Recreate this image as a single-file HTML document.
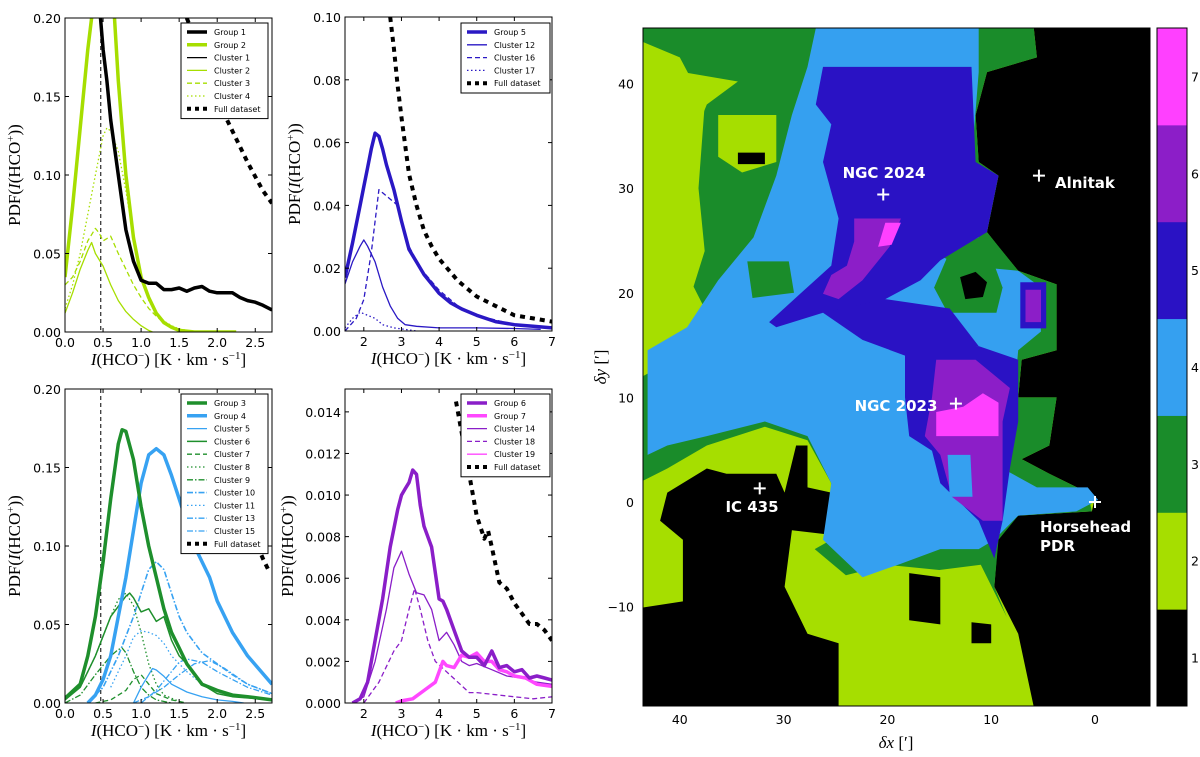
<!DOCTYPE html>
<html><head><meta charset="utf-8"><style>
html,body{margin:0;padding:0;background:#fff;}
svg{display:block;}
.tk{font-family:"DejaVu Sans","Liberation Sans",sans-serif;font-size:12.5px;fill:#000;}
.ax{font-family:"Liberation Serif",serif;font-size:17px;fill:#000;}
.lg{font-family:"DejaVu Sans","Liberation Sans",sans-serif;font-size:8px;fill:#000;}
.ml{font-family:"DejaVu Sans","Liberation Sans",sans-serif;font-size:15px;font-weight:bold;fill:#fff;}
</style></head><body>
<svg id="root" width="1200" height="757" viewBox="0 0 1200 757" xmlns="http://www.w3.org/2000/svg">
<defs>
<clipPath id="cA"><rect x="65" y="18" width="207" height="314"/></clipPath>
<clipPath id="cB"><rect x="345" y="17" width="207" height="314"/></clipPath>
<clipPath id="cC"><rect x="65" y="389" width="207" height="314"/></clipPath>
<clipPath id="cD"><rect x="345" y="389" width="207" height="314"/></clipPath>
<clipPath id="cM"><rect x="643" y="28" width="507" height="678"/></clipPath>
</defs>
<g id="panels"></g>
<g id="map"></g>
</svg>
<script>
// ---------- Panel A data ----------
const aG1x=[0.45,0.5,0.55,0.6,0.7,0.8,0.9,1.0,1.1,1.2,1.3,1.4,1.5,1.6,1.7,1.8,1.9,2.0,2.1,2.2,2.3,2.4,2.5,2.6,2.72];
const aG1y=[0.21,0.18,0.16,0.135,0.1,0.065,0.045,0.033,0.031,0.031,0.027,0.027,0.028,0.026,0.028,0.029,0.026,0.025,0.025,0.025,0.022,0.02,0.019,0.017,0.014];
const aG2x=[0,0.1,0.2,0.3,0.35,0.4,0.5,0.6,0.65,0.7,0.8,0.9,1.0,1.1,1.2,1.3,1.4,1.5,1.7,2.0,2.25];
const aG2y=[0.035,0.08,0.13,0.18,0.2,0.22,0.24,0.22,0.2,0.16,0.1,0.06,0.035,0.022,0.012,0.006,0.003,0.001,0.0,0.0,0.0];
const aC2x=[0,0.1,0.2,0.3,0.35,0.4,0.5,0.6,0.7,0.8,0.9,1.0,1.1,1.15];
const aC2y=[0.012,0.025,0.04,0.052,0.057,0.05,0.042,0.03,0.02,0.013,0.008,0.004,0.001,0.0];
const aC3x=[0,0.1,0.2,0.3,0.4,0.45,0.5,0.6,0.7,0.8,0.9,1.0,1.1,1.2,1.3,1.4,1.6];
const aC3y=[0.03,0.035,0.045,0.058,0.066,0.063,0.058,0.061,0.05,0.04,0.03,0.022,0.015,0.01,0.006,0.003,0.0];
const aC4x=[0,0.1,0.2,0.3,0.4,0.5,0.55,0.6,0.7,0.8,0.9,1.0,1.1,1.2,1.3,1.4,1.5,1.6];
const aC4y=[0.015,0.03,0.05,0.075,0.1,0.125,0.13,0.128,0.115,0.09,0.06,0.035,0.02,0.012,0.007,0.004,0.002,0.001];
const aFx=[1.6,1.8,2.0,2.1,2.2,2.4,2.6,2.72];
const aFy=[0.2,0.175,0.15,0.138,0.128,0.108,0.09,0.082];
// ---------- Panel B data ----------
const bG5x=[1.5,1.7,1.9,2.0,2.1,2.2,2.3,2.4,2.5,2.6,2.8,3.0,3.2,3.4,3.6,3.8,4.0,4.3,4.6,5.0,5.5,6.0,6.5,7.0];
const bG5y=[0.017,0.028,0.04,0.046,0.052,0.058,0.063,0.062,0.058,0.053,0.045,0.035,0.026,0.022,0.018,0.015,0.012,0.009,0.007,0.005,0.003,0.002,0.0015,0.001];
const bC12x=[1.5,1.7,1.9,2.0,2.1,2.3,2.5,2.7,2.9,3.1,3.4,4,5,6,6.7];
const bC12y=[0.015,0.022,0.027,0.029,0.027,0.022,0.014,0.008,0.004,0.002,0.0015,0.001,0.001,0.0008,0.0005];
const bC16x=[1.5,1.8,2.0,2.2,2.3,2.4,2.5,2.7,2.9,3.0,3.2,3.5,4,4.5,5,6,7];
const bC16y=[0.0,0.004,0.01,0.025,0.035,0.045,0.044,0.042,0.04,0.035,0.027,0.02,0.013,0.008,0.005,0.002,0.001];
const bC17x=[1.5,1.7,1.9,2.1,2.3,2.5,2.8,3.1,3.4];
const bC17y=[0.001,0.004,0.006,0.005,0.004,0.002,0.001,0.0005,0.0];
const bFx=[2.7,2.8,2.9,3.0,3.2,3.4,3.6,3.8,4.0,4.5,5.0,5.5,6.0,6.5,7.0];
const bFy=[0.1,0.09,0.078,0.068,0.05,0.04,0.032,0.027,0.023,0.016,0.011,0.008,0.005,0.004,0.003];
// ---------- Panel C data ----------
const cG3x=[0,0.2,0.3,0.4,0.5,0.6,0.7,0.75,0.8,0.9,1.0,1.1,1.2,1.3,1.4,1.5,1.6,1.8,2.0,2.2,2.4,2.72];
const cG3y=[0.003,0.012,0.03,0.055,0.09,0.13,0.165,0.174,0.173,0.155,0.125,0.1,0.08,0.06,0.045,0.035,0.025,0.012,0.008,0.005,0.004,0.002];
const cG4x=[0.3,0.4,0.5,0.6,0.7,0.8,0.9,1.0,1.1,1.2,1.3,1.4,1.5,1.6,1.7,1.8,1.9,2.0,2.2,2.4,2.72];
const cG4y=[0.0,0.005,0.015,0.03,0.055,0.08,0.11,0.14,0.158,0.162,0.158,0.145,0.13,0.115,0.1,0.09,0.08,0.065,0.045,0.03,0.012];
const cC5x=[0.9,1.0,1.1,1.15,1.2,1.3,1.4,1.6,1.8,2.0,2.2,2.35];
const cC5y=[0,0.01,0.018,0.022,0.021,0.017,0.012,0.007,0.004,0.002,0.001,0.0];
const cC6x=[0,0.2,0.4,0.6,0.8,0.85,0.9,1.0,1.1,1.2,1.3,1.4,1.5,1.6,1.8,2.0,2.2,2.72];
const cC6y=[0.002,0.01,0.03,0.055,0.068,0.07,0.067,0.058,0.06,0.052,0.055,0.04,0.03,0.025,0.012,0.006,0.004,0.002];
const cC7x=[0.4,0.6,0.8,0.9,1.0,1.1,1.2,1.4,1.6];
const cC7y=[0,0.002,0.008,0.015,0.018,0.012,0.006,0.002,0.0];
const cC8x=[0.2,0.4,0.6,0.7,0.8,0.9,1.0,1.1,1.2,1.3,1.5];
const cC8y=[0.01,0.03,0.055,0.066,0.07,0.062,0.045,0.025,0.012,0.005,0.001];
const cC9x=[0,0.2,0.4,0.6,0.7,0.75,0.8,0.9,1.0,1.1,1.2,1.4];
const cC9y=[0,0.005,0.018,0.03,0.034,0.035,0.032,0.02,0.01,0.005,0.002,0.0];
const cC10x=[0.3,0.5,0.7,0.9,1.0,1.1,1.2,1.3,1.4,1.5,1.6,1.8,2.0,2.2,2.4,2.72];
const cC10y=[0,0.01,0.03,0.055,0.07,0.085,0.09,0.085,0.07,0.055,0.045,0.032,0.025,0.018,0.012,0.006];
const cC11x=[0.6,0.8,0.9,1.0,1.1,1.2,1.3,1.4,1.6,1.8,2.0,2.3,2.72];
const cC11y=[0.01,0.03,0.042,0.046,0.045,0.043,0.038,0.03,0.02,0.012,0.008,0.004,0.002];
const cC13x=[1.0,1.2,1.4,1.5,1.6,1.8,2.0,2.2,2.4,2.72];
const cC13y=[0,0.008,0.02,0.026,0.028,0.026,0.02,0.015,0.01,0.005];
const cC15x=[0.9,1.1,1.3,1.5,1.7,1.9,2.1,2.4,2.72];
const cC15y=[0,0.004,0.01,0.018,0.025,0.027,0.022,0.012,0.006];
const cFx=[2.53,2.6,2.67];
const cFy=[0.1,0.092,0.085];
// ---------- Panel D data ----------
const dG6x=[1.7,1.9,2.1,2.3,2.5,2.7,2.9,3.0,3.1,3.2,3.3,3.4,3.5,3.6,3.8,4.0,4.1,4.2,4.4,4.6,4.8,5.0,5.2,5.4,5.6,5.8,6.0,6.2,6.4,6.6,6.8,7.0];
const dG6y=[0,0.0002,0.001,0.003,0.005,0.0075,0.0093,0.01,0.0103,0.0106,0.0112,0.011,0.0095,0.0085,0.0075,0.005,0.0049,0.0045,0.0035,0.0025,0.0022,0.0022,0.0018,0.0025,0.0017,0.0018,0.0015,0.0016,0.0012,0.0013,0.0012,0.0011];
const dG7x=[2.85,3.0,3.3,3.6,3.9,4.0,4.1,4.2,4.4,4.6,4.8,5.0,5.2,5.4,5.6,5.8,6.0,6.3,6.6,7.0];
const dG7y=[0,0.0001,0.0002,0.0006,0.001,0.0015,0.002,0.0018,0.0017,0.0023,0.0022,0.0024,0.002,0.002,0.0016,0.0015,0.0013,0.0012,0.0009,0.0008];
const dC14x=[1.7,2.0,2.3,2.6,2.8,3.0,3.2,3.4,3.6,3.8,4.0,4.2,4.4,4.6,4.8,5.0,5.4,5.8,6.2,6.6,7.0];
const dC14y=[0,0.0003,0.002,0.0045,0.0065,0.0073,0.0062,0.0053,0.0052,0.0045,0.003,0.0034,0.0028,0.002,0.0018,0.0019,0.0016,0.0013,0.0012,0.001,0.0009];
const dC18x=[2.0,2.4,2.8,3.0,3.2,3.35,3.5,3.7,3.9,4.2,4.5,4.8,5.0,5.5,6.0,6.5,7.0];
const dC18y=[0,0.001,0.0025,0.003,0.0045,0.0055,0.0045,0.003,0.002,0.0015,0.001,0.0005,0.0005,0.0004,0.0003,0.0002,0.0003];
const dFx=[4.45,4.6,4.8,5.0,5.2,5.3,5.4,5.6,5.8,6.0,6.2,6.4,6.6,6.8,7.0];
const dFy=[0.0145,0.013,0.011,0.009,0.0079,0.0083,0.0075,0.0058,0.0055,0.0048,0.0043,0.0038,0.0038,0.0035,0.003];
// ---------- Ticks ----------
const xTicksLow=[0,0.5,1.0,1.5,2.0,2.5];
const xTickLowLabels=["0.0","0.5","1.0","1.5","2.0","2.5"];
const xTicksHigh=[2,3,4,5,6,7];
const yTicksA=[0,0.05,0.10,0.15,0.20];
const yTickLabelsA=["0.00","0.05","0.10","0.15","0.20"];
const yTicksB=[0,0.02,0.04,0.06,0.08,0.10];
const yTickLabelsB=["0.00","0.02","0.04","0.06","0.08","0.10"];
const yTicksD=[0,0.002,0.004,0.006,0.008,0.010,0.012,0.014];
const yTickLabelsD=["0.000","0.002","0.004","0.006","0.008","0.010","0.012","0.014"];

const NS="http://www.w3.org/2000/svg";
function mk(tag,attrs,parent){const e=document.createElementNS(NS,tag);for(const k in attrs)e.setAttribute(k,attrs[k]);if(parent)parent.appendChild(e);return e;}
const root=document.getElementById('panels');

const YEL="#a6de00",BLK="#000",BLU5="#2a18c4",GRN="#1e8f2c",LBL="#37a2f2",PUR="#8a1ec8",MAG="#ff48ff";
const DASH="5,3",DOT="1.5,2.5",DDOT="6,2,1.5,2",FULL="5,5";

function panel(id,box,xr,yr,xt,xtl,yt,ytl,clip,vline,ylab){
  const g=mk('g',{},root);
  
  
  const sx=v=>box.x+(v-xr[0])/(xr[1]-xr[0])*box.w;
  const sy=v=>box.y+box.h-(v-yr[0])/(yr[1]-yr[0])*box.h;
  const pg=mk('g',{'clip-path':'url(#'+clip+')'},g);
  if(vline!==null){const l=mk('line',{x1:sx(vline),x2:sx(vline),y1:box.y,y2:box.y+box.h,stroke:'#000','stroke-width':1,'stroke-dasharray':'4,3'},pg);
    
    }
  xt.forEach((v,i)=>{const x=sx(v);
    mk('line',{x1:x,x2:x,y1:box.y+box.h,y2:box.y+box.h-4,stroke:'#000'},g);
    mk('line',{x1:x,x2:x,y1:box.y,y2:box.y+4,stroke:'#000'},g);
    const t=mk('text',{x:x,y:box.y+box.h+15,'text-anchor':'middle',class:'tk'},g);t.textContent=xtl[i];
    
    });
  yt.forEach((v,i)=>{const y=sy(v);
    mk('line',{x1:box.x,x2:box.x+4,y1:y,y2:y,stroke:'#000'},g);
    mk('line',{x1:box.x+box.w,x2:box.x+box.w-4,y1:y,y2:y,stroke:'#000'},g);
    const t=mk('text',{x:box.x-4,y:y+5,'text-anchor':'end',class:'tk'},g);t.textContent=ytl[i];
    
    });
  const xl=mk('text',{x:box.x+box.w/2,y:box.y+box.h+33,'text-anchor':'middle',class:'ax'},g);
  xl.innerHTML='<tspan font-style="italic">I</tspan>(HCO<tspan dy="-6" font-size="11">−</tspan><tspan dy="6">) [K · km · s</tspan><tspan dy="-6" font-size="11">−1</tspan><tspan dy="6">]</tspan>';
  
  
  const yl=mk('text',{x:0,y:0,'text-anchor':'middle',class:'ax',transform:'translate('+(box.x-ylab)+','+(box.y+box.h/2)+') rotate(-90)'},g);
  yl.innerHTML='PDF(<tspan font-style="italic">I</tspan>(HCO<tspan dy="-6" font-size="11">+</tspan><tspan dy="6">))</tspan>';
  
  
  return {g,pg,sx,sy,box};
}
function series(P,name,xs,ys,color,w,dash){
  const d=xs.map((x,i)=>(i?'L':'M')+P.sx(x).toFixed(1)+','+P.sy(ys[i]).toFixed(1)).join('');
  const p=mk('path',{d:d,fill:'none',stroke:color,'stroke-width':w,'stroke-linejoin':'round'},P.pg);
  if(dash)p.setAttribute('stroke-dasharray',dash);
  
  
}
function frame(P){mk('rect',{x:P.box.x,y:P.box.y,width:P.box.w,height:P.box.h,fill:'none',stroke:'#000','stroke-width':1},P.g);}
function legend(P,x,y,w,items){
  const lg=mk('g',{},P.g);
  
  
  mk('rect',{x:x,y:y,width:w,height:items.length*12.8+6,fill:'#fff',stroke:'#000','stroke-width':1},lg);
  items.forEach((it,i)=>{const yy=y+9+i*12.8;
    const l=mk('line',{x1:x+6,x2:x+26,y1:yy,y2:yy,stroke:it[1],'stroke-width':it[2]},lg);
    if(it[3])l.setAttribute('stroke-dasharray',it[3]);
    const t=mk('text',{x:x+33,y:yy+3,class:'lg'},lg);t.textContent=it[0];
    
    });
}
const A=panel('panel-group1-2',{x:65,y:18,w:207,h:314},[0,2.72],[0,0.2],xTicksLow,xTickLowLabels,yTicksA,yTickLabelsA,'cA',0.47,45);
series(A,'cluster-4',aC4x,aC4y,YEL,1.3,DOT);
series(A,'cluster-3',aC3x,aC3y,YEL,1.3,DASH);
series(A,'cluster-2',aC2x,aC2y,YEL,1.3,null);
series(A,'group-2',aG2x,aG2y,YEL,3.5,null);
series(A,'cluster-1',aG1x,aG1y,BLK,1.3,null);
series(A,'group-1',aG1x,aG1y,BLK,3.5,null);
series(A,'full-dataset',aFx,aFy,BLK,4,FULL);
frame(A);
legend(A,181,23,87,[["Group 1",BLK,3.5],["Group 2",YEL,3.5],["Cluster 1",BLK,1.3],["Cluster 2",YEL,1.3],["Cluster 3",YEL,1.3,DASH],["Cluster 4",YEL,1.3,DOT],["Full dataset",BLK,4,"4,4"]]);
const B=panel('panel-group5',{x:345,y:17,w:207,h:314},[1.5,7],[0,0.1],xTicksHigh,xTicksHigh.map(String),yTicksB,yTickLabelsB,'cB',null,45);
series(B,'cluster-17',bC17x,bC17y,BLU5,1.3,DOT);
series(B,'cluster-16',bC16x,bC16y,BLU5,1.3,DASH);
series(B,'cluster-12',bC12x,bC12y,BLU5,1.3,null);
series(B,'group-5',bG5x,bG5y,BLU5,3.5,null);
series(B,'full-dataset',bFx,bFy,BLK,4,FULL);
frame(B);
legend(B,461,23,89,[["Group 5",BLU5,3.5],["Cluster 12",BLU5,1.3],["Cluster 16",BLU5,1.3,DASH],["Cluster 17",BLU5,1.3,DOT],["Full dataset",BLK,4,"4,4"]]);
const C=panel('panel-group3-4',{x:65,y:389,w:207,h:314},[0,2.72],[0,0.2],xTicksLow,xTickLowLabels,yTicksA,yTickLabelsA,'cC',0.47,45);
series(C,'cluster-15',cC15x,cC15y,LBL,1.3,DDOT);
series(C,'cluster-13',cC13x,cC13y,LBL,1.3,DDOT);
series(C,'cluster-11',cC11x,cC11y,LBL,1.3,DOT);
series(C,'cluster-10',cC10x,cC10y,LBL,1.6,DDOT);
series(C,'cluster-9',cC9x,cC9y,GRN,1.3,DDOT);
series(C,'cluster-8',cC8x,cC8y,GRN,1.3,DOT);
series(C,'cluster-7',cC7x,cC7y,GRN,1.3,DASH);
series(C,'cluster-6',cC6x,cC6y,GRN,1.5,null);
series(C,'cluster-5',cC5x,cC5y,LBL,1.3,null);
series(C,'group-4',cG4x,cG4y,LBL,3.5,null);
series(C,'group-3',cG3x,cG3y,GRN,3.5,null);
series(C,'full-dataset',cFx,cFy,BLK,4,FULL);
frame(C);
legend(C,181,394,87,[["Group 3",GRN,3.5],["Group 4",LBL,3.5],["Cluster 5",LBL,1.3],["Cluster 6",GRN,1.5],["Cluster 7",GRN,1.3,DASH],["Cluster 8",GRN,1.3,DOT],["Cluster 9",GRN,1.3,DDOT],["Cluster 10",LBL,1.6,DDOT],["Cluster 11",LBL,1.3,DOT],["Cluster 13",LBL,1.3,DDOT],["Cluster 15",LBL,1.3,DDOT],["Full dataset",BLK,4,"4,4"]]);
const D=panel('panel-group6-7',{x:345,y:389,w:207,h:314},[1.5,7],[0,0.0151],xTicksHigh,xTicksHigh.map(String),yTicksD,yTickLabelsD,'cD',null,52);
series(D,'cluster-18',dC18x,dC18y,PUR,1.3,DASH);
series(D,'cluster-14',dC14x,dC14y,PUR,1.3,null);
series(D,'cluster-19',dG7x,dG7y,MAG,1.3,null);
series(D,'group-7',dG7x,dG7y,MAG,3.5,null);
series(D,'group-6',dG6x,dG6y,PUR,3.5,null);
series(D,'full-dataset',dFx,dFy,BLK,4,FULL);
frame(D);
legend(D,461,394,89,[["Group 6",PUR,3.5],["Group 7",MAG,3.5],["Cluster 14",PUR,1.3],["Cluster 18",PUR,1.3,DASH],["Cluster 19",MAG,1.3],["Full dataset",BLK,4,"4,4"]]);

// ---------- Map data (δx, δy in arcmin) ----------
const mapLevels=[1,2,3,4,5,6,7];
const levelColors=["#000000","#a6de00","#1a8c2a","#35a0f0","#2a12c4","#8c1ec8","#ff40ff"];
const regionNonBlack=[[43.6,45.3],[5.9,45.3],[5.6,42.5],[10.4,41.1],[11.5,37.0],[11.2,32.5],[9.3,31.2],[10.4,25.8],[9.3,24.4],[7.4,22.1],[3.7,20.8],[3.7,14.5],[7.06,13.6],[7.4,10.0],[3.7,10.0],[4.4,5.4],[7.06,4.1],[4.4,2.7],[0.7,0.9],[0,0.5],[0.3,-0.9],[7.4,-1.3],[9.3,-3.1],[9.7,-8.1],[7.4,-12.6],[5.9,-19.6],[24.7,-19.6],[24.7,-13.5],[27.7,-12.6],[29.9,-8.1],[29.2,-2.7],[25.8,-3.1],[25.4,0.9],[27.7,1.4],[27.7,5.4],[28.8,5.4],[29.9,0.9],[30.7,2.7],[35.5,2.7],[37.4,3.2],[41.2,0.9],[41.9,-1.8],[39.7,-3.6],[39.7,-9.5],[43.6,-10.1]];
const regionGreen=[[43.6,45.3],[5.9,45.3],[5.6,42.5],[10.4,41.1],[11.5,37],[11.2,32.5],[9.3,31.2],[10.4,25.8],[7.4,22.1],[3.7,20.8],[3.7,14.5],[7.06,13.6],[7.4,10],[3.7,10],[4.4,5.4],[7.06,4.1],[4.4,2.7],[0.7,0.9],[0.3,-0.9],[7.4,-1.3],[9.3,-3.6],[9.7,-8.1],[8.5,-11],[11,-6],[15,-6.5],[20,-6],[24,-7],[27,-4.5],[25.4,-3.6],[25.4,1.8],[27.7,5.9],[31.8,7.2],[37.4,5.4],[41.2,3.2],[43.6,2.0],[43.6,12],[38.9,14.5],[37.4,18.1],[39.7,22.6],[43.6,23.5],[43.6,32.5],[38.9,34.3],[37.4,38.0],[34.4,40.2],[39.7,41.1],[43.6,40.7]];
const regionYellowLeft=[[43.6,44],[40,42.5],[37.6,38],[38.2,30],[37.6,24],[39.5,18],[41,14.5],[43.6,13]];
const regionYellowTop=[[36.3,37],[30.7,37],[30.7,32.5],[34,31.5],[36.3,33]];
const regionBlue=[[26.9,45.3],[11.2,45.3],[11.2,41.1],[11.9,32.5],[10.4,31.2],[11.2,25.3],[14.9,23.5],[12.7,22.6],[7.4,22.1],[5.6,20.8],[5.2,16.3],[7.4,14.5],[7.8,10],[8.9,3.2],[5.6,1.4],[0.7,1.4],[-0.3,0.2],[1.8,-0.9],[7.4,-1.3],[9.7,-3.6],[11.2,-4.5],[14.9,-4.5],[18.7,-5.9],[22.4,-7.2],[26.2,-3.6],[25.4,1.8],[27.7,6.3],[31.8,7.7],[37.4,6.3],[41.2,5.4],[43.1,4.5],[43.1,14.5],[39.3,16.7],[36.3,21.2],[32.9,25.3],[30.7,31.2],[29.2,37],[27.7,41.6]];
const regionGreenRing=[[14.2,23.5],[10,23.5],[8.9,20.5],[9.5,18.1],[14.2,18.1],[15.5,20.5]];
const regionGreenBlob=[[33.5,23],[29.5,23],[29,20],[33,19.5]];
const regionHole1=[[13,21.5],[11.5,22],[10.4,21],[10.8,19.6],[12.5,19.4]];
const regionHole2=[[17.9,-6.8],[14.9,-7.2],[14.9,-11.7],[17.9,-11.3]];
const regionHole3=[[11.9,-11.5],[10,-11.7],[10,-13.5],[11.9,-13.5]];
const regionHole4=[[34.4,33.4],[31.8,33.4],[31.8,32.3],[34.4,32.3]];
const regionDark1=[[26.2,41.6],[11.9,41.6],[11.5,32.5],[9.3,31.2],[10.4,25.8],[14.9,23.1],[16.8,21.2],[20.2,19.4],[22.4,17.6],[26.2,18.1],[30.7,16.7],[31.4,17.2],[28.4,19.9],[25.4,22.6],[24.7,27.1],[26.2,32.5],[25.4,36.1],[26.9,38]];
const regionDarkBand=[[26.2,18.1],[20.2,19.4],[14,18.5],[11.2,14.9],[18.3,14],[22.4,15.5]];
const regionDark2=[[18.3,14.5],[11.2,14.9],[7.4,13.6],[7.4,7.7],[8.2,3.2],[8.9,-1.8],[9.7,-5.4],[11.2,-1.8],[14.9,1.8],[15.7,4.9],[17.9,6.3],[18.3,10]];
const regionDark3=[[7.2,21],[4.7,21],[4.7,16.6],[7.2,16.6]];
const regionPurple1=[[23.2,27.1],[18.7,27.1],[19.8,24.4],[22.4,21.2],[24.7,19.4],[26.2,19.9],[25.4,21.7],[23.9,22.6],[23.2,24.9]];
const regionPurple2=[[15.3,13.6],[11.5,13.6],[8.2,10.9],[8.9,7.7],[8.9,4.1],[8.9,-1.8],[10.8,-1.8],[13.8,0.5],[14.9,4.5],[16.4,6.3],[15.7,10]];
const regionPurple3=[[6.7,20.3],[5.2,20.3],[5.2,17.2],[6.7,17.2]];
const regionBlueHole=[[14.2,4.5],[12,4.5],[11.8,0.5],[14,0.5]];
const regionMagenta1=[[20.2,26.7],[18.7,26.7],[19.6,24.6],[20.9,24.4]];
const regionMagenta2=[[15.3,8.6],[12.7,9.1],[10.8,10.4],[9.3,9.5],[9.3,6.3],[15.3,6.3]];
const mapXTicks=[40,30,20,10,0];
const mapYTicks=[40,30,20,10,0,-10];
const mapYTickLabels=["40","30","20","10","0","−10"];

const M=document.getElementById('map');
const mx=v=>1095-v*10.38;
const my=v=>502-v*10.46;
const mg=mk('g',{'clip-path':'url(#cM)'},M);
const bg=mk('rect',{x:643,y:28,width:507,height:678,fill:levelColors[0]},mg);


function reg(name,pts,lvl){
  const p=mk('polygon',{points:pts.map(q=>mx(q[0]).toFixed(1)+','+my(q[1]).toFixed(1)).join(' '),fill:levelColors[lvl-1]},mg);
  
  
}
reg('region-level-2',regionNonBlack,2);
reg('region-level-3',regionGreen,3);
reg('region-level-2-left',regionYellowLeft,2);
reg('region-level-2-top',regionYellowTop,2);
reg('region-level-4',regionBlue,4);
reg('region-level-3-ring',regionGreenRing,3);
reg('region-level-3-blob',regionGreenBlob,3);
reg('region-hole-1',regionHole1,1);
reg('region-hole-2',regionHole2,1);
reg('region-hole-3',regionHole3,1);
reg('region-hole-4',regionHole4,1);
reg('region-level-5-north',regionDark1,5);
reg('region-level-5-band',regionDarkBand,5);
reg('region-level-5-south',regionDark2,5);
reg('region-level-5-east',regionDark3,5);
reg('region-level-6-north',regionPurple1,6);
reg('region-level-6-south',regionPurple2,6);
reg('region-level-6-east',regionPurple3,6);
reg('region-level-4-hole',regionBlueHole,4);
reg('region-level-7-north',regionMagenta1,7);
reg('region-level-7-south',regionMagenta2,7);
mk('rect',{x:643,y:28,width:507,height:678,fill:'none',stroke:'#000'},M);
mapXTicks.forEach(v=>{const t=mk('text',{x:mx(v),y:724,'text-anchor':'middle',class:'tk','font-size':'14'},M);t.textContent=String(v);
  
  });
mapYTicks.forEach((v,i)=>{const t=mk('text',{x:634,y:my(v)+5,'text-anchor':'end',class:'tk','font-size':'14'},M);t.textContent=mapYTickLabels[i];
  
  });
const mxl=mk('text',{x:896,y:748,'text-anchor':'middle',class:'ax','font-size':'18'},M);
mxl.innerHTML='<tspan font-style="italic">δx</tspan> [′]';


const myl=mk('text',{x:0,y:0,'text-anchor':'middle',class:'ax','font-size':'18',transform:'translate(606,367) rotate(-90)'},M);
myl.innerHTML='<tspan font-style="italic">δy</tspan> [′]';


const marks=[["NGC 2024",20.4,29.4,884,178,'middle'],["Alnitak",5.4,31.2,1055,188,'start'],["NGC 2023",13.4,9.4,896,411,'middle'],["IC 435",32.3,1.3,752,512,'middle'],["Horsehead",0,0,1040,532,'start']];
marks.forEach(m=>{const cx=mx(m[1]),cy=my(m[2]);
  const c=mk('path',{d:'M'+(cx-6)+','+cy+'H'+(cx+6)+'M'+cx+','+(cy-6)+'V'+(cy+6),stroke:'#fff','stroke-width':2},M);
  
  
  const t=mk('text',{x:m[3],y:m[4],'text-anchor':m[5],class:'ml'},M);t.textContent=m[0];
  
  });
const pdr=mk('text',{x:1040,y:551,class:'ml'},M);pdr.textContent='PDR';


const cb=mk('g',{},M);


const segH=678/mapLevels.length;
mapLevels.forEach((lv,i)=>{const y=706-(i+1)*segH;
  const r=mk('rect',{x:1157,y:y,width:30,height:segH+0.5,fill:levelColors[i]},cb);
  
  
  const t=mk('text',{x:1191,y:y+segH/2+5,class:'tk','font-size':'14'},cb);t.textContent=String(lv);
  
  });
mk('rect',{x:1157,y:28,width:30,height:678,fill:'none',stroke:'#000'},cb);
</script>
</body></html>
